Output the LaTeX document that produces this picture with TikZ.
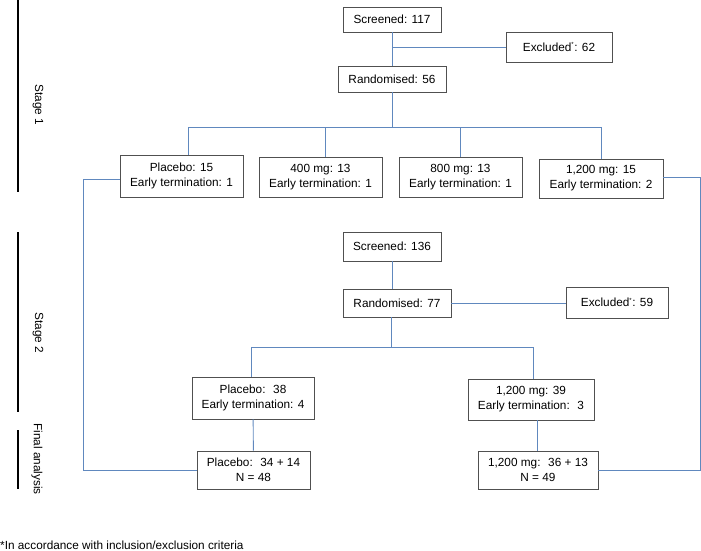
\documentclass[tikz,border=0pt]{standalone}
\usepackage{fontspec}
\setmainfont{Liberation Sans}
\definecolor{linkblue}{RGB}{96,136,190}
\definecolor{boxgray}{RGB}{80,80,80}
\newcommand{\exclmark}{\textsuperscript{\fontsize{6}{6}\selectfont *}}
\begin{document}
\begin{tikzpicture}[
        x=1pt, y=-1pt,
        every node/.style={font=\fontsize{11.8}{15}\selectfont, align=center},
        box/.style={draw=boxgray, line width=0.8pt, inner sep=0pt},
        link/.style={draw=linkblue, line width=0.9pt},
        stagebar/.style={draw=black, line width=2pt},
        stagelabel/.style={rotate=-90, inner sep=0pt},
    ]
    \useasboundingbox (0,0) rectangle (701,551);
    % stage markers
    \draw[stagebar] (17.5,0) -- (17.5,192);
    \draw[stagebar] (17.5,232) -- (17.5,412);
    \draw[stagebar] (17.5,430) -- (17.5,489);
    \node[stagelabel](lab1) at (38,105) {Stage 1};
    \node[stagelabel](lab2) at (38,333) {Stage 2};
    \node[stagelabel](lab3) at (37,459) {Final analysis};
    % stage 1
    \node[box, minimum width=98, minimum height=25](scr1) at (392,19.5) {Screened: 117};
    \node[box, minimum width=106, minimum height=30](excl1) at (559,47) {Excluded\exclmark: 62};
    \node[box, minimum width=108, minimum height=26](rand1) at (392,79) {Randomised: 56};
    \node[box, minimum width=123, minimum height=42](plac1) at (181.5,176) {Placebo: 15\\Early termination: 1};
    \node[box, minimum width=123, minimum height=40](low1) at (320.5,177) {400 mg: 13\\Early termination: 1};
    \node[box, minimum width=123, minimum height=40](mid1) at (460.5,177) {800 mg: 13\\Early termination: 1};
    \node[box, minimum width=124, minimum height=39](hi1) at (601,178.5) {1,200 mg: 15\\Early termination: 2};
    % stage 2
    \node[box, minimum width=98, minimum height=29](scr2) at (392,246.5) {Screened: 136};
    \node[box, minimum width=108, minimum height=28](rand2) at (397,303) {Randomised: 77};
    \node[box, minimum width=102, minimum height=31](excl2) at (617,302.5) {Excluded\exclmark: 59};
    \node[box, minimum width=122, minimum height=42](plac2) at (253,398) {Placebo:~ 38\\Early termination: 4};
    \node[box, minimum width=126, minimum height=41](hi2) at (531,399.5) {1,200 mg: 39\\Early termination:~ 3};
    % final analysis
    \node[box, minimum width=113, minimum height=38](fin1) at (253.5,470) {Placebo:~ 34 + 14\\N = 48};
    \node[box, minimum width=120, minimum height=38](fin2) at (538,470) {1,200 mg:~ 36 + 13\\N = 49};
    \node[anchor=west, inner sep=0pt](note) at (0,545) {*In accordance with inclusion/exclusion criteria};
    % connectors
    \coordinate (fork1) at (392,127);
    \coordinate (fork2) at (391,347);
    \coordinate (loopL) at (83,0);
    \coordinate (loopR) at (700,0);
    \draw[link] (scr1) -- (rand1);
    \draw[link] (scr1 |- excl1) -- (excl1);
    \draw[link] (rand1) -- (fork1);
    \draw[link] (fork1) -| ([xshift=6.5]plac1.north);
    \draw[link] (fork1) -| ([xshift=4.5]low1.north);
    \draw[link] (fork1) -| (mid1);
    \draw[link] (fork1) -| (hi1);
    \draw[link] (scr2) -- (scr2 |- rand2.north);
    \draw[link] (rand2.east) -- (rand2.east -| excl2.west);
    \draw[link] (rand2.south -| fork2) -- (fork2);
    \draw[link] (fork2) -| ([xshift=-2]plac2.north);
    \draw[link] (fork2) -| ([xshift=2]hi2.north);
    \draw[link] (plac2) -- (fin1);
    \draw[link] ([xshift=6]hi2.south) -- ([xshift=-1]fin2.north);
    \draw[link] ([yshift=-3]plac1.west) -| (loopL |- fin1) -- (fin1.west);
    \draw[link] ([yshift=1.5]hi1.east) -| (loopR |- fin2) -- (fin2.east);
    \end{tikzpicture}
\end{document}
